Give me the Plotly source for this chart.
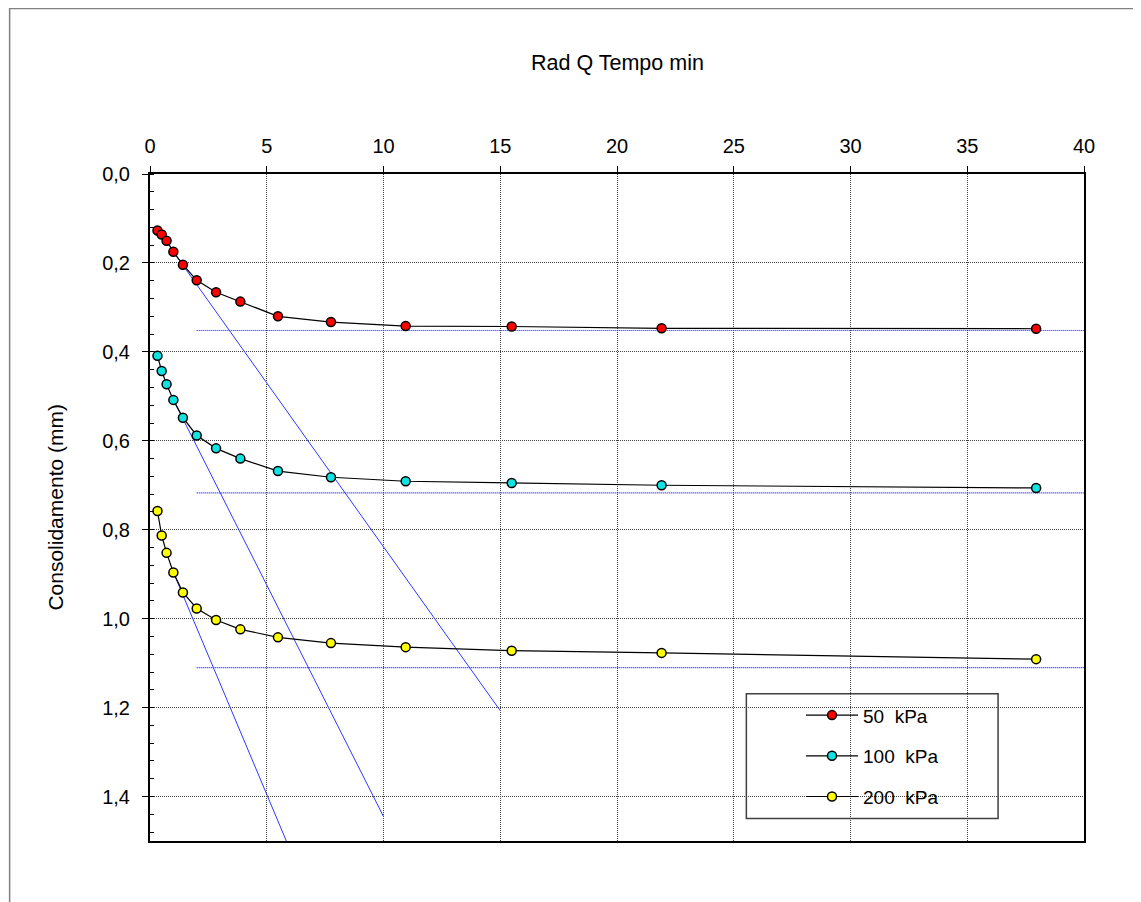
import plotly.graph_objects as go

# raiz do tempo (min^0.5)
raiz_tempo = [0.32, 0.5, 0.71, 1.0, 1.41, 2.0, 2.83, 3.87, 5.48, 7.75, 10.95, 15.49, 21.91, 37.95]

# consolidamento (mm) por estagio de carga
cons_50 = [0.127, 0.136, 0.150, 0.175, 0.204, 0.239, 0.266, 0.287, 0.320, 0.333, 0.342, 0.343, 0.347, 0.348]
cons_100 = [0.409, 0.443, 0.473, 0.508, 0.548, 0.588, 0.617, 0.640, 0.668, 0.682, 0.691, 0.695, 0.700, 0.706]
cons_200 = [0.758, 0.813, 0.852, 0.896, 0.941, 0.977, 1.003, 1.024, 1.042, 1.055, 1.064, 1.072, 1.077, 1.091]

cargas = ["50\u00a0 kPa", "100\u00a0 kPa", "200\u00a0 kPa"]
cores = ["#ff0000", "#11e3e3", "#ffff00"]

# linhas auxiliares (assintota e tangente)
assintota_x = [2, 40]
assintota_y = [0.352, 0.717, 1.110]
tangente_x = [[1.0, 15.0], [1.0, 10.0], [1.0, 6.0]]
tangente_y = [[0.175, 1.207], [0.508, 1.445], [0.896, 1.52]]

fig = go.Figure()

for i in range(3):
    fig.add_trace(go.Scatter(x=assintota_x, y=[assintota_y[i]] * 2, mode="lines",
                             line=dict(color="#1a1aff", width=1.2, dash="1px,1px"),
                             showlegend=False, hoverinfo="skip"))
    fig.add_trace(go.Scatter(x=tangente_x[i], y=tangente_y[i], mode="lines",
                             line=dict(color="#2b3bff", width=1),
                             showlegend=False, hoverinfo="skip"))

for i, serie in enumerate([cons_50, cons_100, cons_200]):
    fig.add_trace(go.Scatter(x=raiz_tempo, y=serie, mode="lines+markers", name=cargas[i],
                             legendgroup=cargas[i],
                             line=dict(color="black", width=1.2),
                             marker=dict(color=cores[i], size=9,
                                         line=dict(color="black", width=1.5))))

fonte = "Liberation Sans, Arial, sans-serif"

fig.update_layout(
    width=1141, height=902,
    margin=dict(l=141.5, r=65, t=166, b=68.5),
    paper_bgcolor="white", plot_bgcolor="white",
    separators=",.",
    font=dict(family=fonte, size=20, color="black"),
    showlegend=True,
    legend=dict(x=0.697, y=0.217, xanchor="left", yanchor="top",
                bgcolor="rgba(0,0,0,0)", borderwidth=0,
                font=dict(size=19), itemwidth=52,
                traceorder="grouped", tracegroupgap=13),
)

fig.update_xaxes(side="top", range=[0, 40], dtick=5, tick0=0,
                 showgrid=True, gridcolor="#404040", griddash="1px,1px", gridwidth=1,
                 showline=True, linecolor="black", linewidth=1.5, mirror=True,
                 ticks="outside", ticklen=6, tickcolor="black",
                 ticklabelstandoff=5, zeroline=False)

fig.update_yaxes(range=[1.5, 0], dtick=0.2, tick0=0, tickformat=".1f",
                 showgrid=True, gridcolor="#404040", griddash="1px,1px", gridwidth=1,
                 showline=True, linecolor="black", linewidth=2, mirror=True,
                 ticks="outside", ticklen=6, tickcolor="black",
                 ticklabelstandoff=8, zeroline=False,
                 minor=dict(dtick=0.04, tick0=0, ticks="inside", ticklen=4,
                            tickcolor="black", showgrid=False))

fig.add_annotation(text="Rad Q Tempo min", xref="paper", yref="paper",
                   x=0.5, y=1.166, xanchor="center", yanchor="middle",
                   showarrow=False, font=dict(size=21.5))
fig.add_annotation(text="Consolidamento (mm)", xref="paper", yref="paper",
                   x=-0.1016, y=0.5, xanchor="center", yanchor="middle",
                   textangle=-90, showarrow=False, font=dict(size=21))

# caixa da legenda e moldura externa
fig.add_shape(type="rect", xref="paper", yref="paper",
              x0=0.6385, x1=0.908, y0=0.0337, y1=0.2209,
              line=dict(color="#404040", width=1.5), fillcolor="rgba(0,0,0,0)")
fig.add_shape(type="rect", xref="paper", yref="paper",
              x0=-0.1503, x1=1.2, y0=-0.2, y1=1.248,
              line=dict(color="#808080", width=1.5), layer="below")

fig.write_html("out.html")
